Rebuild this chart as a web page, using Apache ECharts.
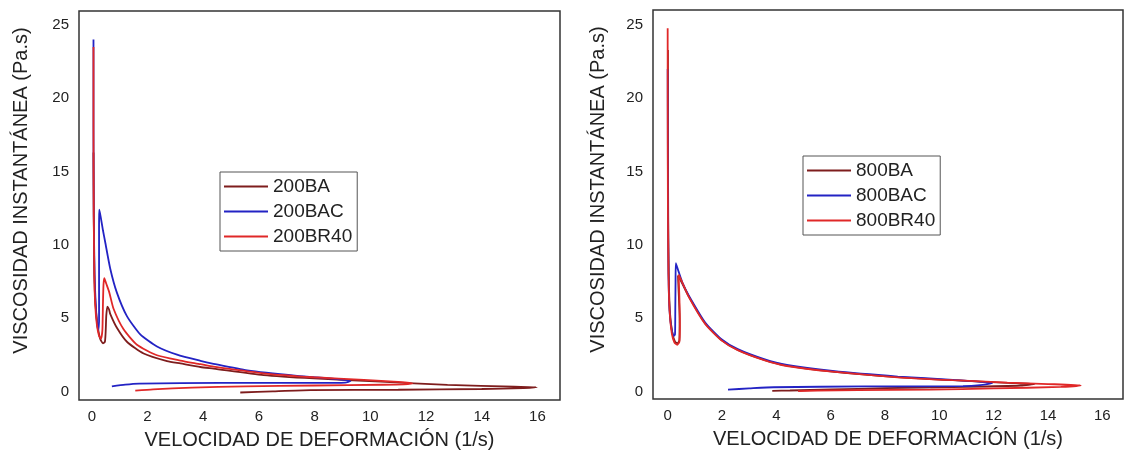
<!DOCTYPE html>
<html>
<head>
<meta charset="utf-8">
<script src="https://cdn.jsdelivr.net/npm/echarts@6/dist/echarts.min.js"></script>
<style>
html,body{margin:0;padding:0;background:#fff;}
#chart{width:1126px;height:455px;}
</style>
</head>
<body>
<div id="chart"></div>
<script>
// ---------- Data ----------
const xTicks = [0, 2, 4, 6, 8, 10, 12, 14, 16];
const yTicks = [0, 5, 10, 15, 20, 25];

const leftNames = ['200BA', '200BAC', '200BR40'];
const rightNames = ['800BA', '800BAC', '800BR40'];

// 200BA
const l200BA_x = [0.06,0.07,0.09,0.13,0.2,0.3,0.4,0.47,0.5,0.52,0.56,0.62,0.66,0.9,1.26,1.86,2.7,3.18,3.9,4.37,6.17,7.97,10.37,12.77,15.17,15.98,15.5,14,11,7.85,6.5,5.33];
const l200BA_y = [16.3,12,8,6,4.6,3.6,3.3,3.4,4.2,5.2,5.8,5.6,5.3,4.35,3.4,2.6,2.08,1.92,1.68,1.57,1.13,0.9,0.68,0.46,0.34,0.3,0.24,0.18,0.13,0.1,0.02,-0.06];
// 200BAC
const l200BAC_x = [0.06,0.06,0.07,0.1,0.14,0.19,0.23,0.26,0.26,0.26,0.27,0.32,0.4,0.48,0.66,0.9,1.26,1.74,2.34,3.06,3.9,4.37,5.58,7.37,8.81,9.29,9.1,8,6,3.2,1.7,1.2,0.72];
const l200BAC_y = [24.0,18,12,8,6,4.6,4.2,4.8,8,11,12.4,11.9,11.0,10.2,8.4,6.75,5.15,3.9,3.08,2.52,2.1,1.9,1.45,1.08,0.86,0.72,0.62,0.6,0.6,0.58,0.55,0.48,0.36];
// 200BR40
const l200BR40_x = [0.06,0.06,0.07,0.09,0.12,0.18,0.26,0.33,0.38,0.4,0.42,0.45,0.52,0.63,0.78,1.14,1.62,2.34,3.18,3.9,4.37,6.17,7.97,9.77,11.0,11.51,11.2,10.4,8,5.5,3.6,2.2,1.56];
const l200BR40_y = [23.5,18,12,8,6,4.6,3.8,3.6,4.2,6,7.3,7.73,7.35,6.75,5.65,4.25,3.2,2.48,2.12,1.87,1.7,1.25,0.98,0.8,0.66,0.57,0.5,0.47,0.42,0.36,0.28,0.16,0.07];

// 800BA
const r800BA_x = [0.01,0.01,0.02,0.04,0.08,0.17,0.27,0.37,0.43,0.44,0.4,0.38,0.45,0.78,1.38,1.98,2.58,3.55,4.39,6.07,8.47,10.5,12.5,13.5,13,11,8,6,4.5,3.85];
const r800BA_y = [23.3,18,12,8,5.5,4.0,3.4,3.3,3.5,5,7,7.9,7.7,6.48,4.65,3.52,2.85,2.17,1.77,1.37,0.99,0.78,0.6,0.52,0.42,0.33,0.24,0.15,0.08,0.05];
// 800BAC
const r800BAC_x = [0.0,0.01,0.03,0.07,0.14,0.22,0.27,0.28,0.29,0.3,0.4,0.55,0.78,1.38,1.98,2.58,3.55,4.39,6.07,8.47,10.5,11.95,11.5,10.87,7.27,3.9,3.0,2.22];
const r800BAC_y = [22,14,8,5.5,4.3,3.8,3.9,5.5,7.5,8.77,8.2,7.4,6.55,4.72,3.58,2.9,2.22,1.82,1.41,1.03,0.8,0.59,0.45,0.38,0.36,0.3,0.22,0.14];
// 800BR40
const r800BR40_x = [0.0,0.0,0.01,0.03,0.07,0.15,0.25,0.35,0.43,0.45,0.43,0.4,0.5,0.78,1.38,1.98,2.58,3.55,4.39,6.07,8.47,10.5,12.5,14,15.2,14.47,12,9.67,7,5.5,4.8];
const r800BR40_y = [24.77,20,12,8,5.5,4.0,3.35,3.2,3.4,4.5,6.5,7.97,7.6,6.45,4.62,3.5,2.83,2.15,1.75,1.36,0.98,0.78,0.62,0.52,0.42,0.32,0.22,0.14,0.1,0.07,0.04];

const seriesColors = ['#7e1d1d', '#2323c4', '#e02828'];

// ---------- Build ----------
function zip(xs, ys) { return xs.map((x, i) => [x, ys[i]]); }

const leftSets = [zip(l200BA_x, l200BA_y), zip(l200BAC_x, l200BAC_y), zip(l200BR40_x, l200BR40_y)];
const rightSets = [zip(r800BA_x, r800BA_y), zip(r800BAC_x, r800BAC_y), zip(r800BR40_x, r800BR40_y)];

const FONT = 'Liberation Sans, Arial, sans-serif';
function tickFmt(list) {
  return function (v) {
    for (const t of list) if (Math.abs(v - t) < 1e-6) return String(t);
    return '';
  };
}
function xAxis(gi, min, max) {
  return {
    type: 'value', gridIndex: gi, min: min, max: max, splitNumber: 8,
    axisLine: { show: false }, axisTick: { show: false }, splitLine: { show: false },
    axisLabel: { color: '#222', fontSize: 15, fontFamily: FONT, margin: 9, formatter: tickFmt(xTicks) },
    name: 'VELOCIDAD DE DEFORMACIÓN (1/s)', nameLocation: 'middle', nameGap: 30,
    nameTextStyle: { color: '#222', fontSize: 20, fontFamily: FONT }
  };
}
function yAxis(gi, min, max, gap) {
  return {
    type: 'value', gridIndex: gi, min: min, max: max, splitNumber: 5,
    axisLine: { show: false }, axisTick: { show: false }, splitLine: { show: false },
    axisLabel: { color: '#222', fontSize: 15, fontFamily: FONT, margin: 10, formatter: tickFmt(yTicks) },
    name: 'VISCOSIDAD INSTANTÁNEA (Pa.s)', nameLocation: 'middle', nameGap: gap,
    nameTextStyle: { color: '#222', fontSize: 20, fontFamily: FONT, padding: [0, 0, 0, 30] }
  };
}
function mkSeries(names, sets, gi) {
  return names.map((n, i) => ({
    name: n, type: 'line', xAxisIndex: gi, yAxisIndex: gi, data: sets[i],
    showSymbol: false, smooth: 0.2, lineStyle: { width: 1.8, color: seriesColors[i] },
    itemStyle: { color: seriesColors[i] }, animation: false
  }));
}
function mkLegend(names, left, top) {
  return {
    data: names, orient: 'vertical', left: left, top: top, icon: 'rect',
    itemWidth: 44, itemHeight: 2, itemGap: 6, padding: [5, 5, 5, 4],
    borderColor: '#555', borderWidth: 1, backgroundColor: '#fff',
    textStyle: { color: '#222', fontSize: 19, fontFamily: FONT }
  };
}

const chart = echarts.init(document.getElementById('chart'), null, { renderer: 'canvas' });
chart.setOption({
  backgroundColor: '#fff',
  animation: false,
  grid: [
    { left: 79, top: 11, width: 481, height: 389, show: true, borderColor: '#333', borderWidth: 1.5, backgroundColor: 'transparent' },
    { left: 653, top: 10, width: 480, height: 389, show: true, borderColor: '#333', borderWidth: 1.5, backgroundColor: 'transparent' }
  ],
  xAxis: [xAxis(0, -0.46, 16.81), xAxis(1, -0.54, 16.76)],
  yAxis: [yAxis(0, -0.57, 25.95, 48), yAxis(1, -0.5, 26.02, 45)],
  legend: [mkLegend(leftNames, 220, 172), mkLegend(rightNames, 803, 156)],
  series: mkSeries(leftNames, leftSets, 0).concat(mkSeries(rightNames, rightSets, 1))
});
</script>
</body>
</html>
